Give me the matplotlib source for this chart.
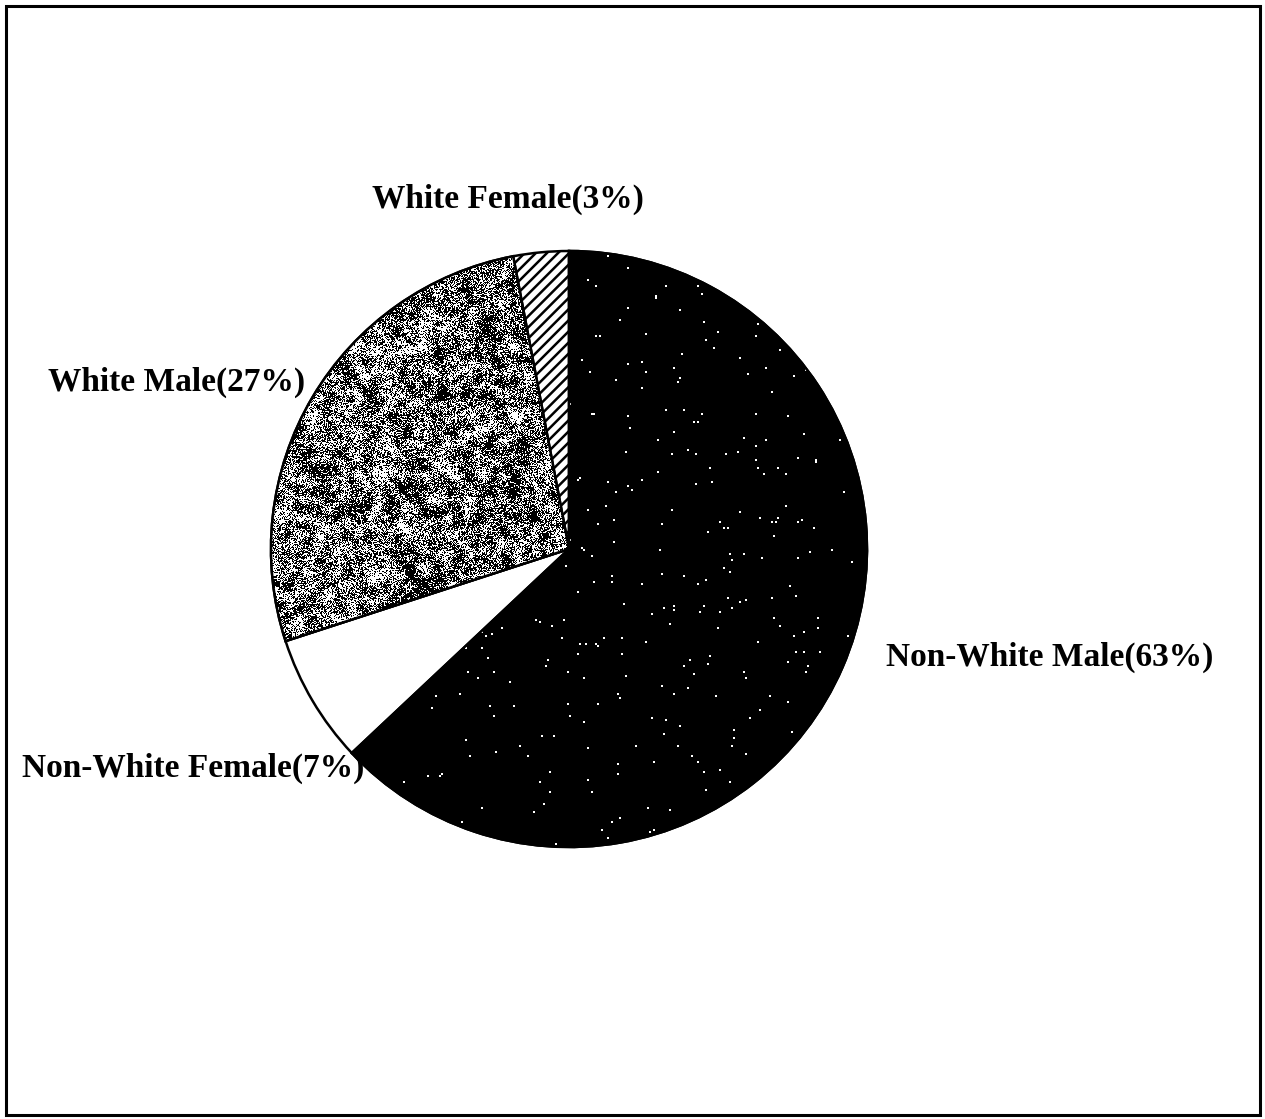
import numpy as np
import matplotlib
matplotlib.use("Agg")
import matplotlib.pyplot as plt
from matplotlib.patches import Rectangle, Wedge

# slice shares, clockwise from 12 o'clock
groups = ["Non-White Male", "Non-White Female", "White Male", "White Female"]
shares = [63, 7, 27, 3]
label_pos = [(1050, 657), (193, 768), (177, 382), (508, 199)]  # label centres, px from top-left

W, H = 1265, 1119
plt.rcParams["font.family"] = ["Liberation Serif", "DejaVu Serif"]
plt.rcParams["hatch.linewidth"] = 1.8

fig = plt.figure(figsize=(W / 100, H / 100), dpi=100)
ax = fig.add_axes([0, 0, 1, 1])

cx, cy, r = 569, H - 549, 298
wedges, _ = ax.pie(shares, startangle=90, counterclock=False, center=(cx, cy),
                   radius=r, frame=True,
                   wedgeprops=dict(edgecolor="black", linewidth=1.8))
ax.set_xlim(0, W)
ax.set_ylim(0, H)
ax.set_aspect("auto")
ax.axis("off")

rng = np.random.default_rng(11)
n = 2 * r + 4
ext = (cx - r - 2, cx + r + 2, cy - r - 2, cy + r + 2)

# speckled black slice (2px flecks)
m = n // 2
dark = (rng.random((m, m)) < 0.006).astype(float)
dark = np.kron(dark, np.ones((2, 2)))
wedges[0].set_facecolor("black")
im = ax.imshow(dark, cmap="gray", vmin=0, vmax=1, extent=ext,
               interpolation="nearest", zorder=1.5)
im.set_clip_path(wedges[0])

# open slice
wedges[1].set_facecolor("white")

# mottled dithered grey slice
blk = 6
field = rng.random((n // blk + 2, n // blk + 2))
field = np.kron(field, np.ones((blk, blk)))[:n, :n]
k = np.ones(9) / 9
field = np.apply_along_axis(lambda v: np.convolve(v, k, mode="same"), 0, field)
field = np.apply_along_axis(lambda v: np.convolve(v, k, mode="same"), 1, field)
tone = 0.55 + 1.0 * (field - field.mean())
grain = (rng.random((n, n)) < tone).astype(float)
wedges[2].set_facecolor("white")
im2 = ax.imshow(1 - grain, cmap="gray", vmin=0, vmax=1, extent=ext,
                interpolation="nearest", zorder=1.5)
im2.set_clip_path(wedges[2])

# hatched slice
wedges[3].set_facecolor("white")
wedges[3].set_hatch("///")

wedges[0].set_zorder(1)
wedges[2].set_zorder(1)
for w in (wedges[0], wedges[2]):
    ax.add_patch(Wedge(w.center, w.r, w.theta1, w.theta2, facecolor="none",
                       edgecolor="black", linewidth=1.8, zorder=3))

for name, pct, (x, y) in zip(groups, shares, label_pos):
    ax.text(x, H - y, f"{name}({pct}%)", ha="center", va="center",
            fontsize=24, fontweight="bold", color="black")

# page frame
ax.add_patch(Rectangle((6, 4), W - 11, H - 10, fill=False, edgecolor="black", linewidth=2.2))

fig.savefig("out.png", dpi=100)
